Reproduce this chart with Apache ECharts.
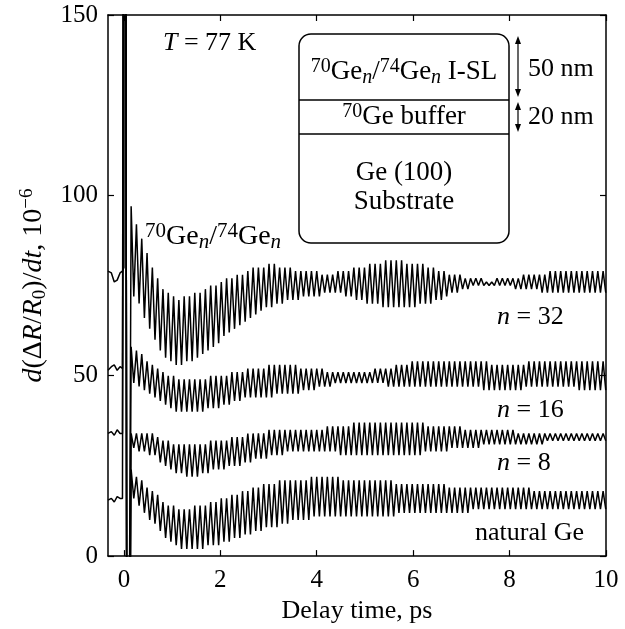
<!DOCTYPE html>
<html>
<head>
<meta charset="utf-8">
<script src="https://cdn.jsdelivr.net/npm/echarts@6.0.0/dist/echarts.min.js"></script>
<style>
  html, body { margin: 0; padding: 0; background: #fff; }
  #main { width: 625px; height: 629px; }
</style>
</head>
<body>
<div id="main"></div>
<script>
// time axis, ps
const xTicks = [0, 2, 4, 6, 8, 10];

// before t = 0 every trace is flat with a small wiggle
const preTimes = [-0.33, -0.26, -0.2, -0.14, -0.08, -0.03, 0.0];
const pre32 = [79, 78.5, 76, 76.5, 78.5, 79, 80];
const pre16 = [51.5, 52.5, 53, 51.5, 52.5, 52, 52];
const pre8 = [34, 34.5, 33.5, 35, 34, 34, 34];
const preNat = [15.5, 16, 15, 16.5, 16, 16, 16];

// the coherent spike at zero delay, runs off the frame both ways
const spikeTimes = [0.02, 0.07];
const spikeValues = [400, -150];

// phonon oscillation: one peak and one trough per period
const oscStart = 0.15;
const period = 0.11;

const peaks32 = [97,92,88,84,80,77,74,73,72,71,
  72,72,73,73,74,75,75,76,77,77,
  78,78,79,80,80,80,81,81,80,80,
  80,79,79,79,79,79,78,78,78,79,
  79,79,80,80,80,81,81,81,82,82,
  82,82,81,81,81,81,80,80,79,79,
  78,78,78,77,77,77,77,76,76,77,
  77,77,77,77,78,78,78,78,78,79,
  79,79,79,79,79,79,79,79,79,79];
const troughs32 = [72,70,66,63,60,57,55,54,53,53,
  54,54,55,56,57,58,59,61,62,63,
  64,65,66,67,68,69,69,70,70,71,
  71,71,72,72,72,72,73,73,73,73,
  72,72,71,71,70,70,70,69,69,69,
  69,69,69,69,70,70,70,71,71,72,
  73,73,74,74,75,75,75,75,75,75,
  75,75,74,74,74,74,74,73,73,73,
  73,73,73,73,73,73,73,73,73,73];

const peaks16 = [58,57,56,54,53,52,51,50,50,49,
  49,49,49,49,49,50,50,50,50,51,
  51,51,52,52,52,52,53,53,53,53,
  53,53,52,52,52,52,52,51,51,51,
  51,51,51,51,51,51,52,52,52,52,
  53,53,53,54,54,54,54,54,54,54,
  54,54,54,54,54,54,54,54,53,53,
  53,53,53,53,53,54,54,54,54,54,
  54,54,54,54,54,54,54,54,54,54];
const troughs16 = [48,47,46,45,44,43,42,41,40,40,
  40,40,40,40,41,41,41,42,42,43,
  43,44,44,44,44,44,44,45,45,45,
  45,45,46,46,46,47,47,47,48,48,
  48,48,48,48,48,48,48,48,47,47,
  47,47,47,47,47,47,47,47,47,47,
  47,47,47,47,47,47,46,46,46,46,
  46,46,46,46,47,47,47,47,47,47,
  47,47,47,47,46,46,46,46,46,46];

const peaks8 = [34,34,34,34,34,33,32,32,31,31,
  31,31,31,31,31,32,32,32,32,33,
  33,33,34,34,34,34,35,35,35,35,
  35,35,35,35,35,35,35,36,36,36,
  36,36,37,37,37,37,37,37,37,37,
  37,37,37,37,37,37,36,36,36,36,
  36,36,36,35,35,35,35,35,35,35,
  35,35,35,34,34,34,34,34,34,34,
  34,34,34,34,34,34,34,34,34,34];
const troughs8 = [30,29,29,28,28,26,25,24,23,23,
  22,22,22,23,23,24,24,24,25,25,
  25,26,26,27,27,27,28,28,28,29,
  29,29,29,29,29,29,29,29,29,28,
  28,28,28,28,28,28,28,28,28,28,
  28,28,28,28,28,29,29,29,29,29,
  30,30,30,30,30,30,31,31,31,31,
  31,31,31,31,31,31,31,31,32,32,
  32,32,32,32,32,32,32,32,32,32];

const peaksNat = [24,22,21,19,18,17,15,14,14,13,
  13,13,14,14,14,15,15,16,16,17,
  17,18,18,19,19,20,20,20,21,21,
  21,21,21,21,22,22,22,22,22,22,
  21,21,21,21,21,21,21,21,21,21,
  20,20,20,20,20,20,20,20,20,20,
  19,19,19,19,19,19,19,19,19,19,
  19,19,19,19,19,19,18,18,18,18,
  18,18,18,18,18,18,18,18,18,18];
const troughsNat = [16,14,12,10,9,7,5,4,3,2,
  2,2,2,2,3,3,3,4,4,5,
  5,6,6,7,7,8,8,8,9,9,
  10,10,10,10,11,11,11,11,11,11,
  11,11,11,11,11,11,11,11,11,11,
  12,12,12,12,12,12,12,12,12,12,
  12,12,12,12,13,13,13,13,13,13,
  13,13,13,13,13,13,13,13,13,13,
  13,13,13,13,13,13,13,13,13,13];

const font = 'Liberation Serif';

const buildTrace = (pre, peaks, troughs) => {
  const pts = []
  for (let i = 0; i < preTimes.length; i++) {
    pts.push([preTimes[i], pre[i]])
  }
  for (let i = 0; i < spikeTimes.length; i++) {
    pts.push([spikeTimes[i], spikeValues[i]])
  }
  for (let k = 0; k < peaks.length; k++) {
    const t = oscStart + k * period
    pts.push([t, peaks[k]])
    pts.push([t + period / 2, troughs[k]])
  }
  return pts
}

const traceSeries = (name, data) => ({
  name: name,
  type: 'line',
  data: data,
  showSymbol: false,
  symbol: 'none',
  clip: true,
  lineStyle: { color: '#000', width: 1.5 },
  silent: true
})

const axisLine = { show: true, onZero: false, lineStyle: { color: '#000', width: 1.5 } };
const inTick = { show: true, inside: true, length: 6, lineStyle: { color: '#000', width: 1.2 } };

// rich styles for super/subscripts, one set per text size
const makeRich = (size, small) => ({
  n: { fontFamily: font, fontSize: size, lineHeight: size + 4, color: '#000' },
  i: { fontFamily: font, fontSize: size, lineHeight: size + 4, fontStyle: 'italic', color: '#000' },
  sup: { fontFamily: font, fontSize: small, lineHeight: small, verticalAlign: 'top', color: '#000' },
  sub: { fontFamily: font, fontSize: small, lineHeight: small, verticalAlign: 'bottom', color: '#000' },
  subi: { fontFamily: font, fontSize: small, lineHeight: small, verticalAlign: 'bottom', fontStyle: 'italic', color: '#000' }
})
const rich26 = makeRich(26, 18);
const rich27 = makeRich(27, 20);
const rich28 = makeRich(28, 21);

const textEl = (x, y, text, rich, align) => ({
  type: 'text',
  x: x,
  y: y,
  style: {
    text: text,
    rich: rich,
    font: '26px "Liberation Serif"',
    fill: '#000',
    align: align || 'left',
    verticalAlign: 'middle'
  },
  z: 100
})

const arrow = (x, y1, y2) => [
  { type: 'line', shape: { x1: x, y1: y1 + 5, x2: x, y2: y2 - 5 }, style: { stroke: '#000', lineWidth: 1.2 }, z: 100 },
  { type: 'polygon', shape: { points: [[x, y1], [x - 3, y1 + 8], [x + 3, y1 + 8]] }, style: { fill: '#000' }, z: 100 },
  { type: 'polygon', shape: { points: [[x, y2], [x - 3, y2 - 8], [x + 3, y2 - 8]] }, style: { fill: '#000' }, z: 100 }
]

const chartDom = document.getElementById('main')
const myChart = echarts.init(chartDom, null, { renderer: 'canvas' })

const option = {
  animation: false,
  backgroundColor: '#fff',
  grid: { left: 108, right: 19, top: 15, bottom: 71, containLabel: false },
  xAxis: [
    {
      type: 'value', min: -0.33, max: 10, position: 'bottom',
      name: 'Delay time, ps', nameLocation: 'middle', nameGap: 36,
      nameTextStyle: { fontFamily: font, fontSize: 26, color: '#000' },
      axisLine: axisLine,
      axisTick: Object.assign({ customValues: xTicks }, inTick),
      axisLabel: { customValues: xTicks, fontFamily: font, fontSize: 25, color: '#000', margin: 12 },
      splitLine: { show: false }
    },
    {
      type: 'value', min: -0.33, max: 10, position: 'top',
      axisLine: axisLine,
      axisTick: Object.assign({ customValues: xTicks }, inTick),
      axisLabel: { show: false },
      splitLine: { show: false }
    }
  ],
  yAxis: [
    {
      type: 'value', min: 0, max: 150, interval: 50, position: 'left',
      name: '{i|d}({n|Δ}{i|R}/{i|R}{sub|0})/{i|dt}{n|, 10}{sup|−6}',
      nameLocation: 'middle', nameGap: 58, nameRotate: 90,
      nameTextStyle: { fontFamily: font, fontSize: 28, color: '#000', rich: makeRich(28, 19) },
      axisLine: axisLine,
      axisTick: inTick,
      axisLabel: { fontFamily: font, fontSize: 25, color: '#000', margin: 10 },
      splitLine: { show: false }
    },
    {
      type: 'value', min: 0, max: 150, interval: 50, position: 'right',
      axisLine: axisLine,
      axisTick: inTick,
      axisLabel: { show: false },
      splitLine: { show: false }
    }
  ],
  series: [
    traceSeries('n = 32', buildTrace(pre32, peaks32, troughs32)),
    traceSeries('n = 16', buildTrace(pre16, peaks16, troughs16)),
    traceSeries('n = 8', buildTrace(pre8, peaks8, troughs8)),
    traceSeries('natural Ge', buildTrace(preNat, peaksNat, troughsNat))
  ],
  graphic: [
    textEl(163, 43, '{i|T}{n| = 77 K}', rich26),
    textEl(145, 237, '{sup|70}{n|Ge}{subi|n}{n|/}{sup|74}{n|Ge}{subi|n}', rich28),
    textEl(497, 317, '{i|n}{n| = 32}', rich26),
    textEl(497, 410, '{i|n}{n| = 16}', rich26),
    textEl(497, 463, '{i|n}{n| = 8}', rich26),
    textEl(475, 533, '{n|natural Ge}', rich26),
    // inset: sample structure
    { type: 'rect', shape: { x: 299, y: 34, width: 210, height: 209, r: 12 }, style: { fill: '#fff', stroke: '#000', lineWidth: 1.5 }, z: 90 },
    { type: 'line', shape: { x1: 299, y1: 100, x2: 509, y2: 100 }, style: { stroke: '#000', lineWidth: 1.5 }, z: 95 },
    { type: 'line', shape: { x1: 299, y1: 134, x2: 509, y2: 134 }, style: { stroke: '#000', lineWidth: 1.5 }, z: 95 },
    textEl(404, 72, '{sup|70}{n|Ge}{subi|n}{n|/}{sup|74}{n|Ge}{subi|n}{n| I-SL}', rich27, 'center'),
    textEl(404, 117, '{sup|70}{n|Ge buffer}', rich27, 'center'),
    textEl(404, 173, '{n|Ge (100)}', rich27, 'center'),
    textEl(404, 202, '{n|Substrate}', rich27, 'center'),
    ...arrow(518, 36, 97),
    ...arrow(518, 102, 132),
    textEl(528, 69, '{n|50 nm}', rich26),
    textEl(528, 117, '{n|20 nm}', rich26)
  ]
};
option && myChart.setOption(option);
</script>
</body>
</html>
